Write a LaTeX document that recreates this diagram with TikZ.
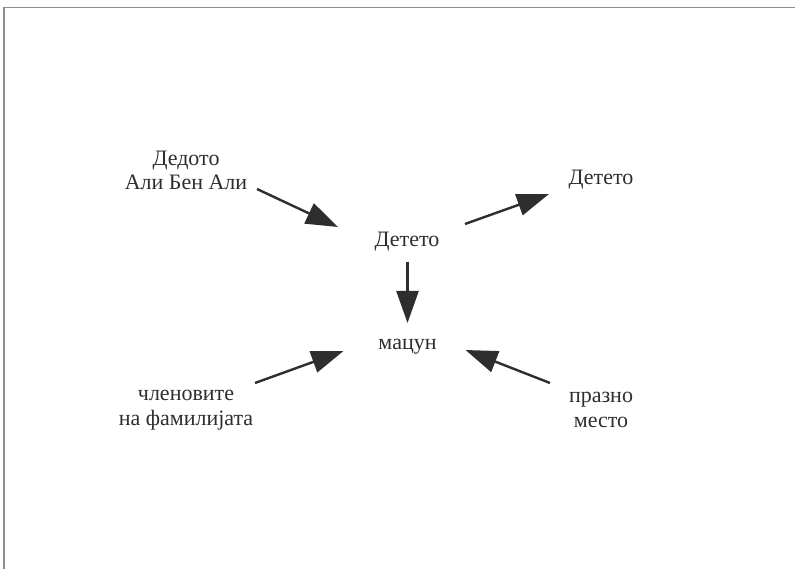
\documentclass[tikz,border=0pt]{standalone}
\usepackage{fontspec}
\setmainfont{Liberation Serif}
\usetikzlibrary{arrows.meta}
\definecolor{txt}{HTML}{2E2E2E}
\definecolor{arrc}{HTML}{2E2E2E}
\definecolor{frame}{HTML}{8C8C8C}
\tikzset{
  lbl/.style={font=\fontsize{22}{24.5}\selectfont, text=txt, anchor=base, inner sep=0pt, align=center},
  arr/.style={draw=arrc, line width=2.4pt, -{Triangle[length=32pt,width=22pt]}, fill=arrc}
}
\begin{document}
\begin{tikzpicture}[x=1pt,y=-1pt]
\useasboundingbox (0,0) rectangle (795,569);
\fill[white] (0,0) rectangle (795,569);
\draw[frame, line width=1.5pt] (4,569) -- (4,7.5) -- (795,7.5);

\node[lbl] (ded) at (186,190) {Дедото\\Али Бен Али};
\node[lbl] (det) at (407,247) {Детето};
\node[lbl] (det2) at (601,185) {Детето};
\node[lbl] (macun) at (407.5,349) {мацун};
\node[lbl] (clen) at (186,425) {членовите\\на фамилијата};
\node[lbl] (prazno) at (601,427) {празно\\место};

\draw[arr] ([shift={(71,-1)}]ded.base) -- ([shift={(-69,-20)}]det.base);
\draw[arr] ([shift={(0.5,15)}]det.base) -- ([shift={(0,-26)}]macun.base);
\draw[arr] ([shift={(58,-23)}]det.base) -- ([shift={(-52,9)}]det2.base);
\draw[arr] ([shift={(69,-42)}]clen.base) -- ([shift={(-64,2)}]macun.base);
\draw[arr] ([shift={(-51,-44)}]prazno.base) -- ([shift={(58,1)}]macun.base);
\end{tikzpicture}
\end{document}
